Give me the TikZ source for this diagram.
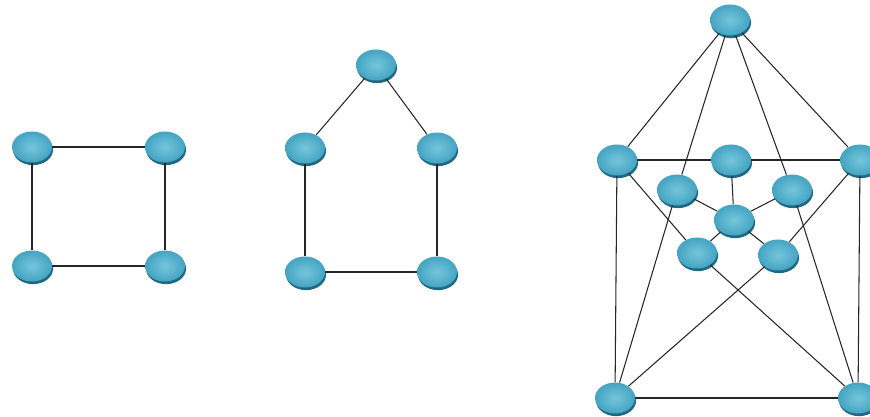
\documentclass[tikz,border=0pt]{standalone}
\usepackage{tikz}
\usetikzlibrary{shapes.geometric,shadows}

\definecolor{hostlight}{RGB}{118,198,220}
\definecolor{hostmid}{RGB}{68,164,194}
\definecolor{hostdark}{RGB}{30,104,132}

\tikzset{
  host/.style={ellipse, minimum width=0.8cm, minimum height=0.62cm, inner sep=0pt,
    inner color=hostlight, outer color=hostmid,
    drop shadow={shadow xshift=0.6pt, shadow yshift=-1.5pt, fill=hostdark, opacity=1}},
  link/.style={draw=black!85, line width=0.6pt}
}

\begin{document}
\begin{tikzpicture}
                \useasboundingbox (0,0) rectangle (17.4,8.34);

                % Nodes (square)
                \node[host] (a1) at (0.64,5.40) {};
                \node[host] (a2) at (3.30,5.40) {};
                \node[host] (a3) at (0.64,3.02) {};
                \node[host] (a4) at (3.30,3.02) {};

                % Nodes (house)
                \node[host] (b1) at (7.52,7.04) {};
                \node[host] (b2) at (6.10,5.38) {};
                \node[host] (b3) at (8.74,5.38) {};
                \node[host] (b4) at (6.10,2.90) {};
                \node[host] (b5) at (8.74,2.90) {};

                % Nodes (big graph)
                \node[host] (c0) at (14.60,7.94) {};
                \node[host] (c1) at (12.34,5.14) {};
                \node[host] (c2) at (14.62,5.14) {};
                \node[host] (c3) at (17.20,5.14) {};
                \node[host] (c4) at (13.54,4.54) {};
                \node[host] (c5) at (15.84,4.54) {};
                \node[host] (c6) at (14.68,3.94) {};
                \node[host] (c7) at (13.94,3.28) {};
                \node[host] (c8) at (15.56,3.24) {};
                \node[host] (c9) at (12.30,0.38) {};
                \node[host] (c10) at (17.16,0.38) {};

                % Edges (square)
                \draw[link] (a1)--(a2);
                \draw[link] (a2)--(a4);
                \draw[link] (a4)--(a3);
                \draw[link] (a3)--(a1);

                % Edges (house)
                \draw[link] (b1)--(b2);
                \draw[link] (b1)--(b3);
                \draw[link] (b2)--(b4);
                \draw[link] (b3)--(b5);
                \draw[link] (b4)--(b5);

                % Edges (big graph)
                \draw[link] (c0)--(c1);
                \draw[link] (c0)--(c3);
                \draw[link] (c0)--(c4);
                \draw[link] (c0)--(c5);
                \draw[link] (c1)--(c2);
                \draw[link] (c2)--(c3);
                \draw[link] (c1)--(c9);
                \draw[link] (c3)--(c10);
                \draw[link] (c9)--(c10);
                \draw[link] (c2)--(c6);
                \draw[link] (c1)--(c7);
                \draw[link] (c3)--(c8);
                \draw[link] (c4)--(c6);
                \draw[link] (c5)--(c6);
                \draw[link] (c6)--(c7);
                \draw[link] (c6)--(c8);
                \draw[link] (c4)--(c9);
                \draw[link] (c5)--(c10);
                \draw[link] (c7)--(c10);
                \draw[link] (c8)--(c9);
            \end{tikzpicture}
\end{document}
